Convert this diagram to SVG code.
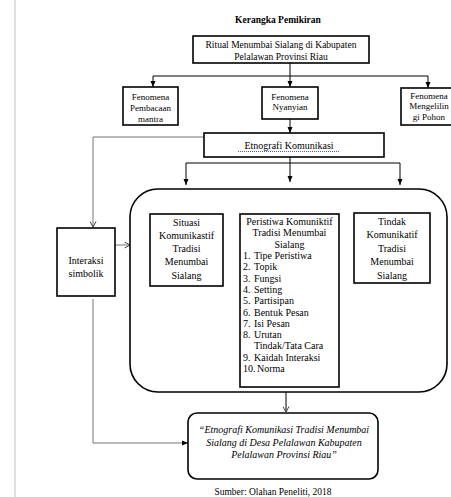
<svg xmlns="http://www.w3.org/2000/svg" width="451" height="497" viewBox="0 0 451 497" font-family="'Liberation Serif', 'DejaVu Serif', serif">
<style>
text{font-family:'Liberation Serif','DejaVu Serif',serif;fill:#000;text-anchor:middle}
.t{font-size:9.5px}
.s{font-size:9px}
.m{font-size:10px}
.box{fill:#fff;stroke:#000;stroke-width:1.6}
.ln{fill:none;stroke:#000;stroke-width:1}
.gl{fill:none;stroke:#777;stroke-width:1}
.lst{text-anchor:start;font-size:10px}
</style>
<defs>
<marker id="ah" markerUnits="userSpaceOnUse" markerWidth="6" markerHeight="6" viewBox="0 0 6 6" refX="6" refY="3" orient="auto">
<path d="M0,0.5 L6,3 L0,5.5 Z" fill="#000"/>
</marker>
<marker id="av" markerUnits="userSpaceOnUse" markerWidth="7" markerHeight="7" viewBox="0 0 7 7" refX="6.5" refY="3.5" orient="auto">
<path d="M1,0.5 L6.5,3.5 L1,6.5" fill="none" stroke="#444" stroke-width="1"/>
</marker>
</defs>
<rect width="451" height="497" fill="#fff"/>
<line x1="15" y1="0" x2="15" y2="497" stroke="#ddd" stroke-width="2"/>
<text x="278" y="23" class="t" font-weight="bold">Kerangka Pemikiran</text>

<g id="connectors">
<path class="ln" d="M290,63 V76 M153,76 H428"/>
<path class="ln" d="M153,76 V87" marker-end="url(#ah)"/>
<path class="ln" d="M290,76 V87" marker-end="url(#ah)"/>
<path class="ln" d="M428,76 V88" marker-end="url(#ah)"/>
<path class="ln" d="M290,119 V133" marker-end="url(#ah)"/>
<path class="gl" d="M204,137 H93 V227" marker-end="url(#av)"/>
<path class="ln" d="M290,157 V163 M186,163 H400"/>
<path class="ln" d="M186,163 V185" marker-end="url(#ah)"/>
<path class="ln" d="M290,163 V182" marker-end="url(#ah)"/>
<path class="ln" d="M400,163 V185" marker-end="url(#ah)"/>
<path class="gl" d="M115,245 H130" marker-end="url(#av)"/>
<path class="gl" d="M93,299 V443 H188" marker-end="url(#ah)"/>
<path class="ln" d="M286,392 V412" marker-end="url(#av)"/>
</g>

<g id="ritual">
<rect class="box" x="193" y="36" width="176" height="27"/>
<text class="t" x="281" y="48">Ritual Menumbai Sialang di Kabupaten</text>
<text class="t" x="281" y="60">Pelalawan Provinsi Riau</text>
</g>

<g id="fenomena-mantra">
<rect class="box" x="123" y="87" width="55" height="38"/>
<text class="s" x="150.5" y="100">Fenomena</text>
<text class="s" x="150.5" y="111">Pembacaan</text>
<text class="s" x="150.5" y="122">mantra</text>
</g>

<g id="fenomena-nyanyian">
<rect class="box" x="262" y="87" width="56" height="32"/>
<text class="s" x="290" y="100">Fenomena</text>
<text class="s" x="290" y="110">Nyanyian</text>
</g>

<g id="fenomena-pohon">
<rect class="box" x="401" y="88" width="52" height="37"/>
<text class="s" x="429" y="99">Fenomena</text>
<text class="s" x="429" y="109">Mengelilin</text>
<text class="s" x="429" y="120">gi Pohon</text>
</g>

<g id="etnografi">
<rect class="box" x="204" y="133" width="180" height="24"/>
<text class="m" x="289" y="149" font-size="10.5">Etnografi  Komunikasi</text>
<line x1="238" y1="151.5" x2="340" y2="151.5" stroke="#4a5fd0" stroke-width="1" stroke-dasharray="1,1"/>
</g>

<g id="interaksi">
<rect class="box" x="57" y="228" width="58" height="68"/>
<text class="m" x="86" y="264">Interaksi</text>
<text class="m" x="86" y="277">simbolik</text>
</g>

<g id="container">
<rect x="130" y="189" width="317" height="203" rx="28" ry="28" fill="#fff" stroke="#000" stroke-width="1.6"/>
</g>

<g id="situasi">
<rect class="box" x="150" y="214" width="73" height="72"/>
<text class="m" x="186.5" y="226">Situasi</text>
<text class="m" x="186.5" y="239">Komunikastif</text>
<text class="m" x="186.5" y="252">Tradisi</text>
<text class="m" x="186.5" y="265">Menumbai</text>
<text class="m" x="186.5" y="279">Sialang</text>
</g>

<g id="peristiwa">
<rect class="box" x="240" y="214" width="99" height="173"/>
<text class="m" x="289.5" y="225">Peristiwa Komuniktif</text>
<text class="m" x="289.5" y="236">Tradisi Menumbai</text>
<text class="m" x="289.5" y="247.5">Sialang</text>
<text class="lst" x="243" y="259">1.</text><text class="lst" x="254" y="259">Tipe Peristiwa</text>
<text class="lst" x="243" y="270">2.</text><text class="lst" x="254" y="270">Topik</text>
<text class="lst" x="243" y="281.5">3.</text><text class="lst" x="254" y="281.5">Fungsi</text>
<text class="lst" x="243" y="292.5">4.</text><text class="lst" x="254" y="292.5">Setting</text>
<text class="lst" x="243" y="304">5.</text><text class="lst" x="254" y="304">Partisipan</text>
<text class="lst" x="243" y="315.5">6.</text><text class="lst" x="254" y="315.5">Bentuk Pesan</text>
<text class="lst" x="243" y="326.5">7.</text><text class="lst" x="254" y="326.5">Isi Pesan</text>
<text class="lst" x="243" y="337.5">8.</text><text class="lst" x="254" y="337.5">Urutan</text>
<text class="lst" x="254" y="349">Tindak/Tata Cara</text>
<text class="lst" x="243" y="360.5">9.</text><text class="lst" x="254" y="360.5">Kaidah Interaksi</text>
<text class="lst" x="243" y="371.5">10.</text><text class="lst" x="257" y="371.5">Norma</text>
</g>

<g id="tindak">
<rect class="box" x="354" y="213" width="76" height="70"/>
<text class="m" x="392" y="225">Tindak</text>
<text class="m" x="392" y="238">Komunikatif</text>
<text class="m" x="392" y="252">Tradisi</text>
<text class="m" x="392" y="265">Menumbai</text>
<text class="m" x="392" y="279">Sialang</text>
</g>

<g id="hasil">
<rect x="188" y="413" width="190" height="66" rx="9" ry="9" fill="#fff" stroke="#000" stroke-width="1.6"/>
<text class="m" x="284" y="433" font-style="italic">“Etnografi Komunikasi Tradisi Menumbai</text>
<text class="m" x="284" y="445.5" font-style="italic">Sialang di Desa Pelalawan Kabupaten</text>
<text class="m" x="284" y="458" font-style="italic">Pelalawan Provinsi Riau”</text>
</g>

<text class="t" x="273" y="495">Sumber: Olahan Peneliti, 2018</text>
</svg>
